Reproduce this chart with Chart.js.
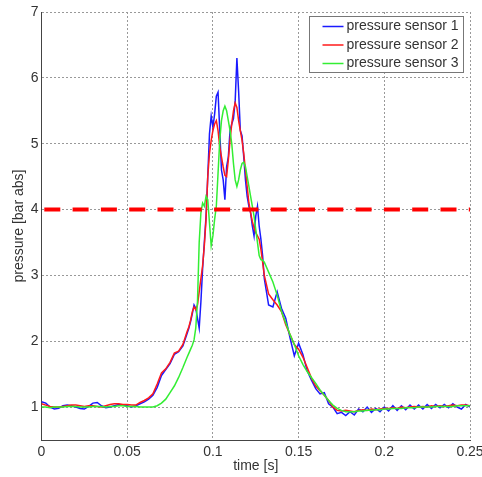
<!DOCTYPE html>
<html>
<head>
<meta charset="utf-8">
<script src="https://cdn.jsdelivr.net/npm/chart.js@4.4.1/dist/chart.umd.min.js"></script>
<style>
  html, body { margin: 0; padding: 0; background: #fff; overflow: hidden; }
  #wrap { width: 482px; height: 477px; }
</style>
</head>
<body>
<div id="wrap"><canvas id="chart" width="482" height="477"></canvas></div>
<script>
// --- DATA ---
const time = [
  0, 0.0025, 0.005, 0.0075, 0.01, 0.0125, 0.015, 0.0175, 0.02, 0.0225, 0.025, 0.0275,
  0.03, 0.0325, 0.035, 0.0375, 0.04, 0.0425, 0.045, 0.0475, 0.05, 0.0525, 0.055, 0.0575,
  0.06, 0.0625, 0.065, 0.0675, 0.07, 0.0725, 0.075, 0.0775, 0.08, 0.0825, 0.085,
  0.086, 0.087, 0.088, 0.089, 0.090, 0.091, 0.092, 0.093, 0.094, 0.095, 0.096, 0.097,
  0.098, 0.099, 0.100, 0.101, 0.102, 0.103, 0.104, 0.105, 0.106, 0.107, 0.108, 0.109,
  0.110, 0.111, 0.112, 0.113, 0.114, 0.115, 0.116, 0.117, 0.118, 0.119, 0.120, 0.121,
  0.122, 0.123, 0.124, 0.125, 0.126, 0.127, 0.128, 0.129, 0.130,
  0.1325, 0.135, 0.1375, 0.14, 0.1425, 0.145, 0.1475, 0.15, 0.1525, 0.155, 0.1575, 0.16,
  0.1625, 0.165, 0.1675, 0.17, 0.1725, 0.175, 0.1775, 0.18, 0.1825, 0.185, 0.1875, 0.19,
  0.1925, 0.195, 0.1975, 0.2, 0.2025, 0.205, 0.2075, 0.21, 0.2125, 0.215, 0.2175, 0.22,
  0.2225, 0.225, 0.2275, 0.23, 0.2325, 0.235, 0.2375, 0.24, 0.2425, 0.245, 0.2475, 0.25
];

const sensor1 = [
  1.08, 1.06, 1.00, 0.97, 0.98, 1.02, 1.03, 1.02, 1.00, 0.98, 0.97, 1.01,
  1.06, 1.07, 1.02, 0.99, 1.00, 1.02, 1.04, 1.03, 1.02, 1.00, 1.02, 1.05,
  1.08, 1.12, 1.18, 1.30, 1.48, 1.57, 1.66, 1.80, 1.84, 1.93, 2.12,
  2.20, 2.30, 2.42, 2.55, 2.50, 2.35, 2.20, 2.60, 3.10, 3.50, 3.90, 4.50,
  5.15, 5.42, 5.25, 5.45, 5.72, 5.78, 5.20, 4.60, 4.45, 4.15, 4.65, 4.80,
  5.20, 5.30, 5.38, 5.65, 6.30, 5.80, 5.20, 5.12, 4.80, 4.45, 4.20, 4.05,
  3.95, 3.75, 3.60, 3.90, 4.05, 3.75, 3.55, 3.30, 2.95,
  2.55, 2.52, 2.75, 2.50, 2.35, 2.05, 1.78, 1.97, 1.80, 1.55, 1.41, 1.28,
  1.20, 1.22, 1.05, 1.00, 0.90, 0.92, 0.87, 0.93, 0.88, 0.97, 0.93, 1.00,
  0.92, 0.98, 0.93, 1.00, 0.94, 1.02, 0.95, 1.02, 0.96, 1.03, 0.97, 1.03,
  0.97, 1.04, 0.98, 1.04, 0.99, 1.04, 0.99, 1.05, 1.00, 0.97, 1.04, 1.00
];

const sensor2 = [
  1.05, 1.03, 1.01, 1.00, 1.00, 1.01, 1.02, 1.03, 1.03, 1.02, 1.01, 1.02,
  1.02, 1.01, 1.00, 1.02, 1.04, 1.05, 1.05, 1.04, 1.04, 1.03, 1.03, 1.07,
  1.10, 1.14, 1.20, 1.35, 1.52, 1.58, 1.68, 1.82, 1.85, 1.95, 2.15,
  2.22, 2.32, 2.45, 2.52, 2.48, 2.55, 2.75, 2.95, 3.15, 3.45, 3.85, 4.50,
  4.85, 5.05, 5.20, 5.30, 5.35, 5.20, 4.95, 4.80, 4.65, 4.52, 4.50, 4.75,
  5.05, 5.30, 5.50, 5.62, 5.55, 5.35, 5.20, 5.05, 4.85, 4.60, 4.35, 4.10,
  3.95, 3.82, 3.72, 3.65, 3.60, 3.55, 3.40, 3.20, 3.00,
  2.72, 2.63, 2.55, 2.45, 2.25, 2.10, 1.95, 1.88, 1.76, 1.60, 1.44, 1.32,
  1.25, 1.18, 1.10, 1.00, 0.95, 0.94, 0.95, 0.94, 0.93, 0.95, 0.96, 0.95,
  0.97, 0.96, 0.97, 0.98, 0.98, 0.99, 0.98, 1.00, 0.99, 1.00, 1.01, 1.00,
  1.01, 1.00, 1.02, 1.01, 1.02, 1.01, 1.02, 1.03, 1.02, 1.03, 1.03, 1.02
];

const sensor3 = [
  1.00, 1.00, 0.99, 1.00, 1.00, 1.00, 1.01, 1.01, 1.01, 1.00, 1.00, 1.00,
  1.01, 1.01, 1.01, 1.00, 1.01, 1.01, 1.02, 1.02, 1.01, 1.01, 1.01, 1.00,
  1.00, 1.00, 1.00, 1.02, 1.06, 1.12, 1.22, 1.32, 1.45, 1.60, 1.76,
  1.82, 1.88, 1.94, 2.02, 2.20, 2.60, 3.50, 3.95, 4.10, 4.05, 4.20, 4.15,
  3.80, 3.45, 3.60, 3.85, 4.05, 4.55, 5.05, 5.35, 5.50, 5.57, 5.50, 5.35,
  5.20, 5.00, 4.70, 4.45, 4.35, 4.45, 4.60, 4.70, 4.72, 4.65, 4.50, 4.35,
  4.20, 4.05, 3.90, 3.70, 3.50, 3.30, 3.24, 3.23, 3.20,
  3.05, 2.90, 2.70, 2.45, 2.28, 2.10, 1.95, 1.78, 1.65, 1.54, 1.45, 1.36,
  1.26, 1.18, 1.10, 1.03, 0.98, 0.95, 0.93, 0.93, 0.93, 0.94, 0.94, 0.95,
  0.95, 0.96, 0.96, 0.97, 0.97, 0.98, 0.98, 0.98, 0.99, 0.99, 0.99, 1.00,
  1.00, 1.00, 1.00, 1.01, 1.01, 1.01, 1.01, 1.01, 1.02, 1.02, 1.02, 1.02
];

const seriesLabels = ['pressure sensor 1', 'pressure sensor 2', 'pressure sensor 3'];
const thresholdLevel = 4;
const timeTicks = [0, 0.05, 0.1, 0.15, 0.2, 0.25];
const timeTickLabels = ['0', '0.05', '0.1', '0.15', '0.2', '0.25'];
const pressureTicks = [1, 2, 3, 4, 5, 6, 7];

// --- HELPERS ---
const toPoints = values => values.map((v, i) => ({ x: time[i], y: v }));
const FONT = "'Liberation Sans', Arial, sans-serif";

// legend drawn inside the plot, top right (MATLAB style)
const insideLegend = {
  id: 'insideLegend',
  afterDraw(chart) {
    const ctx = chart.ctx;
    const area = chart.chartArea;
    const items = chart.data.datasets.filter(d => d.inLegend);
    const w = 154, h = 56;
    const left = Math.round(area.right - 161) + 0.5;
    const top = Math.round(area.top + 4) + 0.5;
    ctx.save();
    ctx.fillStyle = '#fff';
    ctx.fillRect(left, top, w, h);
    ctx.strokeStyle = '#777';
    ctx.lineWidth = 1;
    ctx.strokeRect(left, top, w, h);
    ctx.font = '14px ' + FONT;
    ctx.textBaseline = 'middle';
    ctx.fillStyle = '#333';
    items.forEach((d, i) => {
      const y = top + 10 + i * 18.5;
      ctx.beginPath();
      ctx.strokeStyle = d.borderColor;
      ctx.lineWidth = 1.5;
      ctx.moveTo(left + 13, y);
      ctx.lineTo(left + 34, y);
      ctx.stroke();
      ctx.fillText(d.label, left + 37, y);
    });
    ctx.restore();
  }
};

// drop the label overhang padding so the last x label runs off the canvas like the original
const noOverhang = s => { s.paddingLeft = 0; s.paddingRight = 0; s.paddingTop = 0; s.paddingBottom = 0; };

const ctx = document.getElementById('chart').getContext('2d');
new Chart(ctx, {
  type: 'line',
  data: {
    datasets: [
      { label: seriesLabels[0], data: toPoints(sensor1), borderColor: '#1a1aff', borderWidth: 1.5, order: 3, inLegend: true },
      { label: seriesLabels[1], data: toPoints(sensor2), borderColor: '#ff1a1a', borderWidth: 1.5, order: 2, inLegend: true },
      { label: seriesLabels[2], data: toPoints(sensor3), borderColor: '#33ee33', borderWidth: 1.5, order: 1, inLegend: true },
      {
        label: 'threshold',
        data: [{ x: timeTicks[0], y: thresholdLevel }, { x: timeTicks[timeTicks.length - 1], y: thresholdLevel }],
        borderColor: '#ff0000', borderWidth: 4, borderDash: [16, 12.3], borderDashOffset: 25.5,
        borderCapStyle: 'butt', order: 0
      }
    ]
  },
  options: {
    responsive: false,
    animation: false,
    devicePixelRatio: 1,
    elements: { point: { radius: 0 }, line: { tension: 0, fill: false } },
    layout: { autoPadding: false, padding: { left: 0, top: 12, right: 12, bottom: 0 } },
    plugins: { legend: { display: false }, tooltip: { enabled: false } },
    scales: {
      x: {
        type: 'linear', min: 0, max: 0.25,
        afterBuildTicks: s => { s.ticks = timeTicks.map(v => ({ value: v })); },
        afterFit: s => { s.height = 37; noOverhang(s); },
        ticks: {
          color: '#333', font: { family: FONT, size: 14 }, padding: 4, maxRotation: 0,
          callback: (v) => timeTickLabels[timeTicks.indexOf(v)] ?? ''
        },
        grid: { color: '#999', lineWidth: 1, drawTicks: false },
        border: { display: true, color: '#444', width: 1, dash: [2, 2] },
        title: { display: true, text: 'time [s]', color: '#333', font: { family: FONT, size: 14 }, padding: { top: 0, bottom: 2 } }
      },
      y: {
        type: 'linear', min: 0.5, max: 7,
        afterBuildTicks: s => { s.ticks = pressureTicks.map(v => ({ value: v })); },
        afterFit: s => { s.width = 41.5; noOverhang(s); },
        ticks: { color: '#333', font: { family: FONT, size: 14 }, padding: 3 },
        grid: { color: '#999', lineWidth: 1, drawTicks: false },
        border: { display: true, color: '#444', width: 1, dash: [2, 2] },
        title: { display: true, text: 'pressure [bar abs]', color: '#333', font: { family: FONT, size: 14 }, padding: { top: 11, bottom: 0 } }
      }
    }
  },
  plugins: [insideLegend]
});
</script>
</body>
</html>
